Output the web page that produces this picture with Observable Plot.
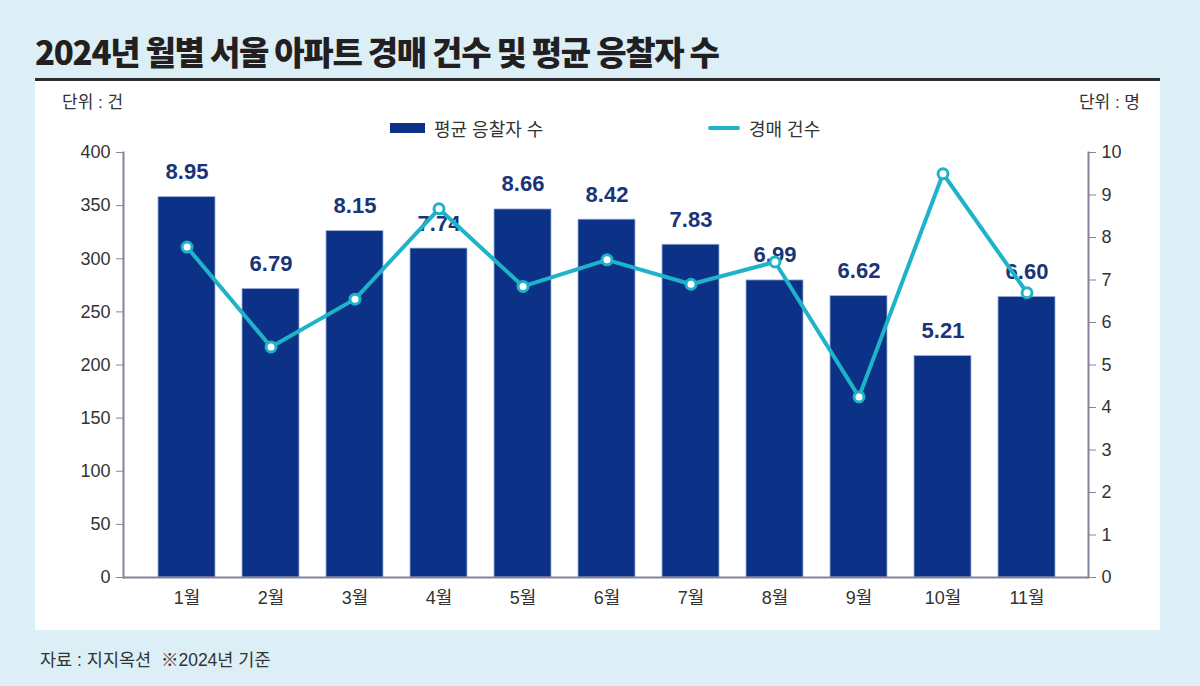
<!DOCTYPE html>
<html>
<head>
<meta charset="utf-8">
<script src="https://cdn.jsdelivr.net/npm/d3@7"></script>
<script src="https://cdn.jsdelivr.net/npm/@observablehq/plot@0.6"></script>
<style>
  body { margin: 0; }
  #page { position: relative; width: 1200px; height: 686px; background: #dceef6; overflow: hidden;
          font-family: "Liberation Sans", "Noto Sans CJK KR", sans-serif; color: #333; }
  #title { position: absolute; left: 35px; top: 29px; font-family: "Noto Sans CJK KR", sans-serif;
           font-weight: 900; font-size: 33px; letter-spacing: -1.3px; color: #231f20; line-height: 44px; white-space: nowrap; }
  #panel { position: absolute; left: 35px; top: 78px; width: 1125px; height: 552px; background: #fff;
           border-top: 3px solid #2b2b2b; box-sizing: border-box; }
  .unit { position: absolute; top: 92px; font-size: 17px; color: #333; line-height: 22px; white-space: nowrap; }
  #legend { position: absolute; top: 115px; left: 0; width: 1200px; height: 26px; font-size: 18px; color: #333; }
  .lg { position: absolute; top: 0; display: flex; align-items: center; height: 26px; white-space: nowrap; }
  .sw-bar { width: 35px; height: 10px; background: #0b3287; margin-right: 9px; }
  .sw-line { width: 32px; height: 4px; background: #1fb3c9; margin-right: 9px; border-radius: 2px; }
  #chart { position: absolute; left: 35px; top: 130px; }
  #footer { position: absolute; left: 40px; top: 649px; font-size: 17.5px; color: #333; line-height: 22px; white-space: nowrap; }
</style>
</head>
<body>
<div id="page">
  <div id="title">2024년 월별 서울 아파트 경매 건수 및 평균 응찰자 수</div>
  <div id="panel"></div>
  <div class="unit" style="left:62px;">단위 : 건</div>
  <div class="unit" style="right:60px;">단위 : 명</div>
  <div id="legend">
    <div class="lg" style="left:390px;"><div class="sw-bar"></div>평균 응찰자 수</div>
    <div class="lg" style="left:708px;"><div class="sw-line"></div>경매 건수</div>
  </div>
  <div id="chart"></div>
  <div id="footer">자료 : 지지옥션 &nbsp;※2024년 기준</div>
</div>
<script>
const months = ["1월", "2월", "3월", "4월", "5월", "6월", "7월", "8월", "9월", "10월", "11월"];
const bidders = [8.95, 6.79, 8.15, 7.74, 8.66, 8.42, 7.83, 6.99, 6.62, 5.21, 6.60];
const auctions = [311, 217, 262, 347, 274, 299, 276, 297, 170, 380, 268];
const leftTicks = [0, 50, 100, 150, 200, 250, 300, 350, 400];
const rightTicks = [0, 1, 2, 3, 4, 5, 6, 7, 8, 9, 10];
const ratio = 40; // left axis (건) 400 ↔ right axis (명) 10

const data = months.map((m, i) => ({ month: m, bidders: bidders[i], auctions: auctions[i] }));

const navy = "#0b3287";
const cyan = "#1fb3c9";
const axisColor = "#86829a";

const chart = Plot.plot({
  width: 1125,
  height: 500,
  marginTop: 22,
  marginBottom: 53,
  marginLeft: 88,
  marginRight: 72,
  style: { fontFamily: "'Liberation Sans', 'Noto Sans CJK KR', sans-serif", fontSize: "18px", color: "#333", background: "transparent", overflow: "visible" },
  x: { type: "band", domain: months, paddingInner: 0.323, paddingOuter: 0.392, align: 0.52, axis: null },
  y: { domain: [0, 400], axis: null },
  marks: [
    Plot.barY(data, { x: "month", y: d => d.bidders * ratio, fill: navy, stroke: "#9fb0d8", strokeWidth: 0.8 }),
    Plot.frame({ anchor: "left", stroke: axisColor, strokeWidth: 2 }),
    Plot.frame({ anchor: "right", stroke: axisColor, strokeWidth: 2 }),
    Plot.ruleY([0], { stroke: axisColor, strokeWidth: 2 }),
    Plot.axisY({ anchor: "left", ticks: leftTicks, tickSize: 7, tickPadding: 6, label: null, stroke: axisColor, fontSize: 18 }),
    Plot.axisY({ anchor: "right", ticks: rightTicks.map(v => v * ratio), tickFormat: d => d / ratio, tickSize: 7, tickPadding: 6, label: null, stroke: axisColor, fontSize: 18 }),
    Plot.axisX({ tickSize: 0, tickPadding: 14, label: null, fontSize: 18 }),
    Plot.text(data, { x: "month", y: d => d.bidders * ratio, text: d => d.bidders.toFixed(2), dy: -18, lineAnchor: "bottom",
                      fill: "#1a3478", fontWeight: "bold", fontSize: 22 }),
    Plot.line(data, { x: "month", y: "auctions", stroke: cyan, strokeWidth: 4 }),
    Plot.dot(data, { x: "month", y: "auctions", r: 5, fill: "white", stroke: cyan, strokeWidth: 3 })
  ]
});
document.getElementById("chart").appendChild(chart);
</script>
</body>
</html>
